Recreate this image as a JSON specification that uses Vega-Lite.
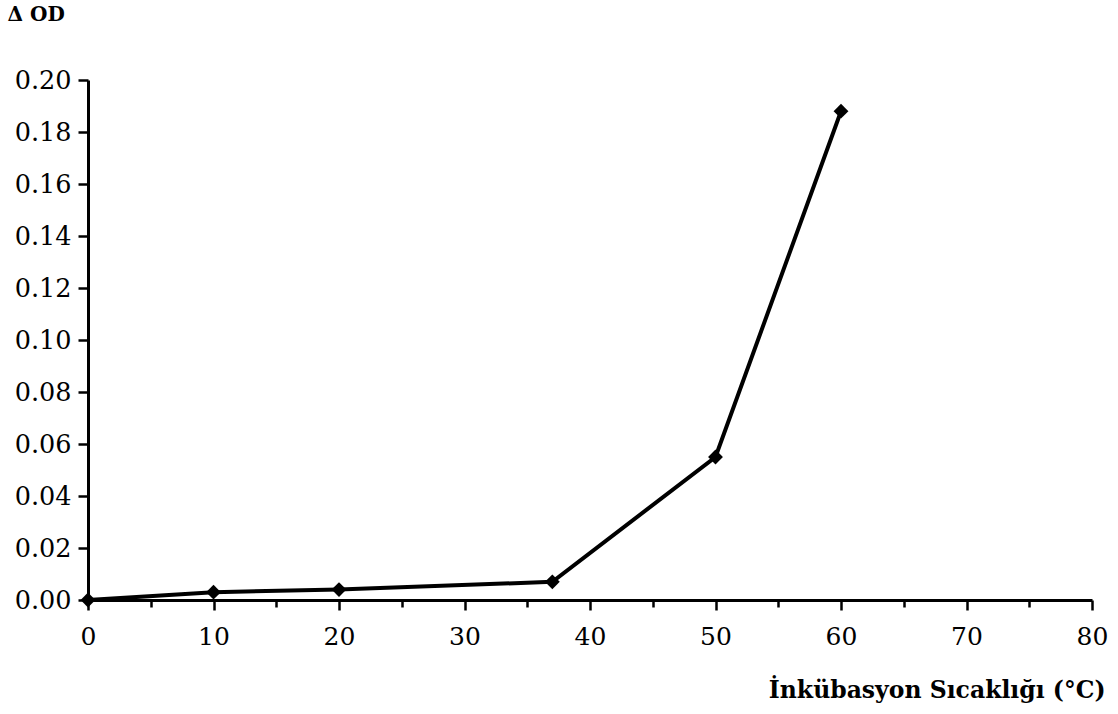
{
  "$schema": "https://vega.github.io/schema/vega-lite/v6.json",
  "autosize": "none",
  "width": 1004,
  "height": 520,
  "padding": {"left": 88, "top": 80, "right": 26, "bottom": 114},
  "background": "white",
  "config": {
    "view": {"stroke": null},
    "font": "DejaVu Serif",
    "axis": {"grid": false, "domainColor": "black", "tickColor": "black", "labelColor": "black", "titleColor": "black"}
  },
  "data": {"values": [
    {"t": 0, "od": 0.0},
    {"t": 10, "od": 0.003},
    {"t": 20, "od": 0.004},
    {"t": 37, "od": 0.007},
    {"t": 50, "od": 0.055},
    {"t": 60, "od": 0.188}
  ]},
  "layer": [
    {
      "mark": {"type": "line", "color": "black", "strokeWidth": 4},
      "encoding": {
        "x": {"field": "t", "type": "quantitative", "scale": {"domain": [0, 80], "nice": false, "zero": false},
          "axis": {"orient": "bottom", "values": [0,10,20,30,40,50,60,70,80], "format": "d", "tickSize": 10, "tickWidth": 2.5, "domainWidth": 3,
            "labelFontSize": 25, "labelPadding": 14, "labelFlush": false,
            "title": "İnkübasyon Sıcaklığı (°C)", "titleFontSize": 23.5, "titleFontWeight": "bold",
            "titleX": 1017, "titleY": 97, "titleAlign": "right", "titleBaseline": "alphabetic", "titleAnchor": null}},
        "y": {"field": "od", "type": "quantitative", "scale": {"domain": [0, 0.2], "nice": false},
          "axis": {"values": [0,0.02,0.04,0.06,0.08,0.1,0.12,0.14,0.16,0.18,0.2], "format": ".2f", "tickSize": 10, "tickWidth": 2.5, "domainWidth": 3,
            "labelFontSize": 25.5, "labelPadding": 7, "labelFlush": false,
            "title": "Δ OD", "titleFontSize": 20, "titleFontWeight": "bold", "titleAngle": 0,
            "titleX": -81, "titleY": -66, "titleAlign": "left", "titleBaseline": "middle", "titleAnchor": null}}
      }
    },
    {
      "mark": {"type": "point", "shape": "diamond", "filled": true, "color": "black", "opacity": 1, "size": 220},
      "encoding": {
        "x": {"field": "t", "type": "quantitative",
          "axis": {"orient": "bottom", "values": [5,15,25,35,45,55,65,75], "tickSize": 7, "tickWidth": 2.5, "domain": false, "labels": false, "title": null}},
        "y": {"field": "od", "type": "quantitative"}
      }
    }
  ],
  "resolve": {"axis": {"x": "independent"}}
}
